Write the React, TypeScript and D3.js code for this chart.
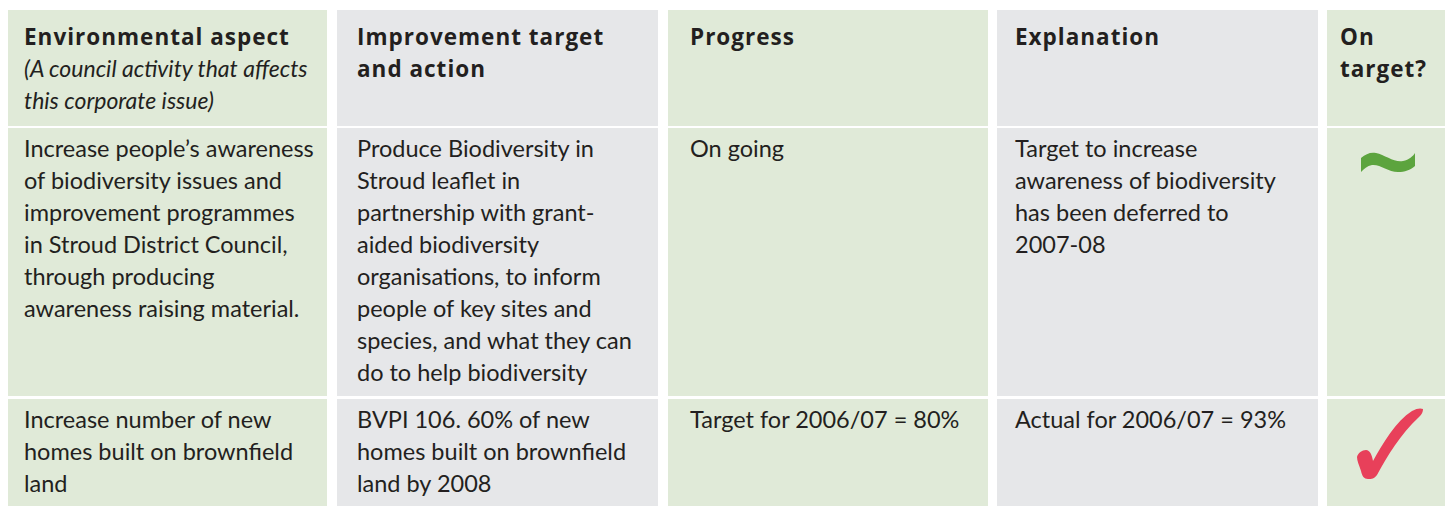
import React from "react";
import * as d3 from "d3";

const W = 1448;
const H = 506;

// Table content (pre-wrapped as in the reference)
const headerBold: string[][] = [
  ["Environmental aspect"],
  ["Improvement target", "and action"],
  ["Progress"],
  ["Explanation"],
  ["On", "target?"],
];
const headerItalic: string[][] = [
  ["(A council activity that affects", "this corporate issue)"],
  [],
  [],
  [],
  [],
];
const row1: string[][] = [
  [
    "Increase people’s awareness",
    "of biodiversity issues and",
    "improvement programmes",
    "in Stroud District Council,",
    "through producing",
    "awareness raising material.",
  ],
  [
    "Produce Biodiversity in",
    "Stroud leaflet in",
    "partnership with grant-",
    "aided biodiversity",
    "organisations, to inform",
    "people of key sites and",
    "species, and what they can",
    "do to help biodiversity",
  ],
  ["On going"],
  [
    "Target to increase",
    "awareness of biodiversity",
    "has been deferred to",
    "2007-08",
  ],
  [],
];
const row2: string[][] = [
  ["Increase number of new", "homes built on brownfield", "land"],
  ["BVPI 106. 60% of new", "homes built on brownfield", "land by 2008"],
  ["Target for 2006/07 = 80%"],
  ["Actual for 2006/07 = 93%"],
  [],
];
const statusMarks: string[] = ["", "partial", "achieved"];

const columnIds = [0, 1, 2, 3, 4];
const colColors = ["#e0ead8", "#e6e7e9", "#e0ead8", "#e6e7e9", "#e0ead8"];

// column edges (left, right)
const colLeft = [8, 337, 668, 997, 1327];
const colRight = [327, 658, 988, 1318, 1445];
const textLeft = [24, 357, 690, 1015, 1340];
// row edges
const rowTop = [10, 128, 399];
const rowBottom = [126, 396, 506];

const FONT = "Lato, 'Open Sans', sans-serif";
const BOLD_FONT = "'Open Sans', Lato, sans-serif";
const FS = 23.5;
const FS_IT = 23;
const FS_B = 22.5;
const LH = 32;
const TEXT = "#231f20";

export default function App() {
  const xScale = d3.scaleOrdinal<number, number>().domain(columnIds).range(colLeft);
  const rows = [null, row1, row2];

  const renderLines = (lines: string[], x: number, y0: number, opts: any = {}) =>
    lines.map((t, i) => (
      <text
        key={i}
        x={x}
        y={y0 + i * LH}
        fontFamily={opts.bold ? BOLD_FONT : FONT}
        fontSize={opts.bold ? FS_B : opts.italic ? FS_IT : FS}
        letterSpacing={opts.bold ? 1 : 0}
        fill={TEXT}
        fontWeight={opts.bold ? 700 : 400}
        fontStyle={opts.italic ? "italic" : "normal"}
      >
        {t}
      </text>
    ));

  return (
    <svg width={W} height={H} style={{ position: "absolute", left: 0, top: 0 }}>
      <rect x={0} y={0} width={W} height={H} fill="#ffffff" />
      {rowTop.map((top, r) =>
        columnIds.map((c) => (
          <rect
            key={`cell-${r}-${c}`}
            x={xScale(c)}
            y={top}
            width={colRight[c] - colLeft[c]}
            height={rowBottom[r] - top}
            fill={colColors[c]}
          />
        ))
      )}
      {/* header */}
      {columnIds.map((c) => (
        <g key={`h-${c}`}>
          {renderLines(headerBold[c], textLeft[c], 45, { bold: true })}
          {renderLines(headerItalic[c], textLeft[c], 45 + headerBold[c].length * LH, { italic: true })}
        </g>
      ))}
      {/* body rows */}
      {[1, 2].map((r) =>
        columnIds.map((c) => (
          <g key={`r-${r}-${c}`}>{renderLines((rows[r] as string[][])[c], textLeft[c], rowTop[r] + 29)}</g>
        ))
      )}
      {/* status marks */}
      {[1, 2].map((r) => {
        const cx = (colLeft[4] + colRight[4]) / 2;
        const y = rowTop[r];
        if (statusMarks[r] === "partial") {
          return (
            <path
              key={`m-${r}`}
              d={`M ${cx - 25} ${y + 30}
                 C ${cx - 20} ${y + 26}, ${cx - 16} ${y + 24}, ${cx - 10} ${y + 25}
                 C ${cx - 1} ${y + 27}, ${cx + 9} ${y + 35}, ${cx + 17} ${y + 33}
                 C ${cx + 23} ${y + 32}, ${cx + 27} ${y + 28}, ${cx + 29} ${y + 25}
                 L ${cx + 29} ${y + 38}
                 C ${cx + 24} ${y + 42}, ${cx + 19} ${y + 44}, ${cx + 12} ${y + 44}
                 C ${cx + 2} ${y + 44}, ${cx - 6} ${y + 36}, ${cx - 14} ${y + 37}
                 C ${cx - 19} ${y + 38}, ${cx - 22} ${y + 41}, ${cx - 25} ${y + 44} Z`}
              fill="#5ca43e"
            />
          );
        }
        if (statusMarks[r] === "achieved") {
          return (
            <path
              key={`m-${r}`}
              d={`M ${cx - 29} ${y + 58}
                 C ${cx - 28} ${y + 54}, ${cx - 24} ${y + 51}, ${cx - 20} ${y + 51}
                 C ${cx - 16} ${y + 51}, ${cx - 14} ${y + 56}, ${cx - 13} ${y + 62}
                 C ${cx - 3} ${y + 44}, ${cx + 10} ${y + 22}, ${cx + 26} ${y + 12}
                 C ${cx + 31} ${y + 9}, ${cx + 35} ${y + 9}, ${cx + 37} ${y + 10}
                 C ${cx + 37} ${y + 13}, ${cx + 36} ${y + 15}, ${cx + 33} ${y + 18}
                 C ${cx + 14} ${y + 36}, ${cx + 2} ${y + 56}, ${cx - 9} ${y + 76}
                 C ${cx - 12} ${y + 80}, ${cx - 14} ${y + 80}, ${cx - 18} ${y + 80}
                 C ${cx - 22} ${y + 80}, ${cx - 24} ${y + 77}, ${cx - 25} ${y + 72}
                 C ${cx - 27} ${y + 66}, ${cx - 29} ${y + 62}, ${cx - 29} ${y + 58} Z`}
              fill="#e8405a"
            />
          );
        }
        return null;
      })}
    </svg>
  );
}
